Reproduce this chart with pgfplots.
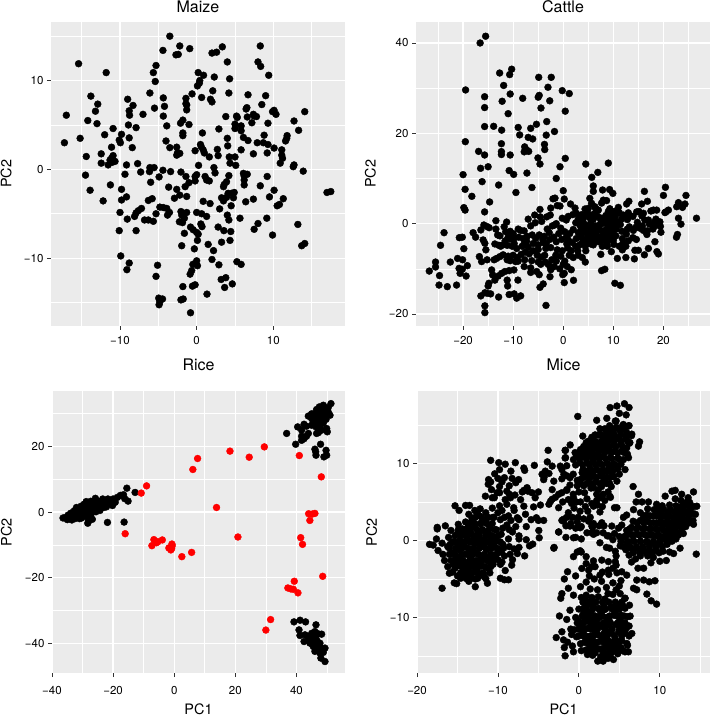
\documentclass[border=0pt]{standalone}
\usepackage{pgfplots}
\pgfplotsset{compat=1.18}
\usepackage{fontspec}
\setmainfont{TeX Gyre Heros}
\definecolor{panel}{HTML}{EBEBEB}
\pgfplotsset{
 gg/.style={
  scale only axis,
  axis background/.style={fill=panel},
  axis line style={draw=none},
  grid=both,
  major grid style={white,line width=1.25pt},
  minor grid style={white,line width=0.6pt},
  major tick length=4pt,
  minor tick length=0pt,
  tick align=outside,
  xtick pos=lower, ytick pos=left,
  tick style={color=black!80,line width=0.8pt},
  tick label style={font=\fontsize{11.5}{12}\selectfont},
  label style={font=\fontsize{14.4}{15}\selectfont},
  title style={font=\fontsize{16}{17}\selectfont},
  every axis title shift=0pt,
  only marks,
 },
 dots/.style={only marks,mark=*,mark size=3.45pt,mark options={draw=black,fill=black,line width=0.4pt}},
 rdots/.style={only marks,mark=*,mark size=3.45pt,mark options={draw=red,fill=red,line width=0.4pt}},
}
\begin{document}
\begin{tikzpicture}[x=1pt,y=1pt]
\path[use as bounding box] (0,0) rectangle (710,717);
% Maize
\begin{axis}[gg,at={(51pt,391pt)},anchor=south west,width=294pt,height=304pt,
 xmin=-19,xmax=19.35,ymin=-17.64,ymax=16.6,
 xtick={-10,0,10},xticklabels={−10,0,10},ytick={-10,0,10},yticklabels={−10,0,10},
 minor xtick={-15,-5,5,15},minor ytick={-15,-5,5,15},
 xticklabel style={yshift=-3pt},
 title=Maize,title style={at={(0.5,1)},anchor=base,yshift=9.5pt},
 ylabel=PC2,ylabel style={at={(axis description cs:-0.153,0.5)},anchor=center}]
\addplot[dots] coordinates {
(-3.5,15)(-2.2,13.9)(-0.9,13.6)(-4.4,13.4)(-2.7,12.9)(-2.4,12.95)(3.35,13.8)(2,13.1)(2.6,13.2)(8.3,13.9)(-15.4,11.9)(4,12.1)(8,12.1)(8.35,11.6)(-5.3,11.7)(-11.8,10.9)(-5.65,10.9)(0.2,10.9)(0.9,10.6)(9.4,10.6)(2.3,10.4)(4.3,10.2)(0.4,10)(0.35,9.7)(0.1,9.4)(-5.4,9.9)(-6.1,8.6)(-0.6,8.5)(2.1,8.85)(4.2,8.6)(-13.8,8.25)(6.7,8.4)(9,8.3)(0.65,8.1)(-4.35,8.05)(-1.4,8)(-9,7.9)(1.8,7.9)(2,7.6)(-1.4,7.4)(-1.3,7.25)(-12.9,7.35)(-8.3,7.2)(-4.2,7.1)(8.5,7.3)(6.55,6.95)(6.45,6.8)(-5.5,6.9)(-1.3,6.7)(-13.2,6.55)(-8.8,6.6)(10.1,6.65)(9.9,6.5)(10.35,6.2)(14.1,6.5)(-17,6.1)(-7,6.2)(-8.75,6.1)(-4.35,6)(3.8,5.95)(5.2,6)(5.3,5.85)(6.6,5.9)(7.4,6.2)(7.8,5.95)(7.5,6)(-14.2,5.5)(12.7,5.45)(-1.8,5.55)(-2.1,5.2)(-1,5.05)(9.3,5.2)(7.2,5.25)(-13,5.15)(-8.9,5)(5,5.1)(5.8,4.9)(-3.9,4.9)(5,4.6)(-10.9,4.6)(-7.9,4.7)(2.9,4.55)(5.8,4.35)(13.3,4.4)(0.75,4.1)(-1.8,4.1)(-1.8,3.8)(-12,3.9)(-9.8,3.95)(8.8,3.85)(11.8,3.8)(11.75,3.5)(11.6,3.2)(-15.2,3.5)(-8.8,3.55)(4,3.5)(6.1,3.6)(6.7,3.25)(-10.1,3.3)(-9.95,3)(-4,3.2)(-17.25,3)(7.9,3)(8.7,3)(9.3,2.8)(0.5,2.8)(0.6,2.55)(0.85,2.2)(4.05,2.65)(-11.1,2.5)(-8.4,2.45)(-3.5,2.45)(-2.6,2.5)(10.1,2.4)(2.7,2.25)(5.8,2.2)(11.1,2.2)(-0.2,2.1)(-2.5,1.85)(-2.2,1.8)(-2.6,1.6)(7.4,1.75)(9.2,1.85)(1,1.85)(1.65,1.4)(-12.45,1.75)(2.8,1.55)(-14.4,1.45)(-10.9,1.55)(-11.1,1.25)(-11.3,1.05)(11.1,1.6)(11.2,1.25)(4.25,1.4)(5,1.4)(-10.65,0.9)(-11,0.8)(4.35,0.7)(-12.45,0.7)(10.9,0.7)(-7.7,0.65)(-11.55,0.5)(-9.15,0.5)(5.1,0.45)(0.25,0.45)(12.7,0.5)(12.6,0.3)(2.25,0.2)(2.4,-0.4)(-6.1,0.2)(-5.55,0.2)(-6.15,-0.25)(13.9,-0.2)(-4.4,-0.1)(-3.4,-0.25)(-7.3,-0.3)(-2.05,-0.3)(-9.35,-0.55)(-14.5,-0.65)(6.1,-0.45)(6.6,-0.55)(6.2,-0.75)(4.2,-0.7)(0,-0.6)(-0.2,-0.8)(-1.4,-0.8)(9.2,-0.8)(-4.9,-0.85)(1.1,-0.8)(1.3,-1.2)(1.65,-1.3)(-0.2,-1.3)(6.2,-1.2)(6.2,-1.75)(3.9,-1.4)(3.6,-1.7)(-6,-1.45)(-1,-1.5)(-1.5,-1.95)(-11.25,-1.75)(8.3,-1.85)(-3.65,-2)(3.5,-1.95)(-9.8,-2.25)(10.1,-2.35)(-13.9,-2.35)(-2.6,-2.25)(4.9,-2.6)(4.55,-2.7)(4.1,-2.7)(17,-2.6)(17.5,-2.5)(-2.2,-2.9)(-1.3,-3.05)(-2.9,-3.25)(-9.15,-3.1)(-9.8,-3.45)(3.25,-3.2)(3.9,-3.15)(4.8,-3.2)(9.5,-3.1)(7.4,-3.35)(11.3,-3.3)(-5.8,-3.3)(-6.3,-3.5)(-12.2,-3.55)(0.85,-3.6)(6.4,-3.65)(3.5,-3.55)(1.75,-3.85)(10.8,-3.95)(10.5,-4.1)(4.5,-4.1)(-4.8,-4.25)(-4.35,-4.3)(-3.9,-4.4)(-7.2,-4.4)(-7.6,-4.65)(-7.9,-4.9)(-8.1,-5.3)(3,-4.45)(-10,-4.85)(-3.55,-4.85)(-3.8,-5.15)(-2.05,-4.75)(-1.3,-4.85)(-1.95,-5.15)(0,-4.85)(0.65,-5)(1.3,-5.3)(4,-5.15)(4.2,-5.7)(-5.3,-5)(-9.05,-5.6)(-1.6,-5.5)(-2.25,-5.9)(-1.85,-6)(5.65,-5.5)(9.15,-5.5)(-6.8,-5.7)(-6.3,-5.7)(-5.65,-5.85)(0.55,-6.15)(0.7,-6.45)(8,-6.1)(13.2,-6.2)(2.8,-6.5)(-0.8,-6.5)(7.5,-6.75)(-0.45,-6.8)(0,-7.1)(0.2,-7.3)(-10.1,-6.9)(-7.9,-6.9)(3.55,-6.9)(4.45,-7)(-1.6,-7.2)(9.9,-7.4)(0.1,-8)(4.35,-8)(3.25,-8.2)(1.5,-8.45)(-1.95,-8.6)(13.7,-8.6)(14.1,-8.35)(-0.3,-8.95)(2.2,-9.15)(-9.9,-9.75)(2,-10.15)(5.25,-10.4)(5.8,-10.7)(-8.8,-10.55)(0,-10.3)(-0.5,-10.7)(0.1,-10.85)(-5.1,-10.8)(2.9,-10.75)(-9.1,-11.3)(-0.65,-11.4)(-0.85,-11.8)(-5.3,-12.05)(3.8,-12.2)(3.2,-12.4)(4.65,-12.9)(-0.2,-13)(-0.55,-13.15)(-1.8,-13.2)(3.65,-13.3)(1.35,-14.05)(-4.95,-14.5)(-4.45,-14.6)(-4.8,-14.9)(-4.9,-15.25)(-1.75,-14.6)(-2.05,-14.7)(-0.8,-16.15)
};
\end{axis}
% Cattle
\begin{axis}[gg,at={(416pt,391pt)},anchor=south west,width=294pt,height=304pt,
 xmin=-29.4,xmax=29.3,ymin=-22.66,ymax=44.65,
 xtick={-20,-10,0,10,20},xticklabels={−20,−10,0,10,20},ytick={-20,0,20,40},yticklabels={−20,0,20,40},
 minor xtick={-25,-15,-5,5,15,25},minor ytick={-10,10,30},
 xticklabel style={yshift=-3pt},
 title=Cattle,title style={at={(0.5,1)},anchor=base,yshift=9.5pt},
 ylabel=PC2,ylabel style={at={(axis description cs:-0.155,0.5)},anchor=center}]
\addplot[dots] coordinates {
(-15.5,41.5)(-16.6,40)(-10.3,34.2)(-10.7,33)(-12.7,33.35)(-4.9,32.4)(-2.4,32.4)(-11.9,30.6)(-3.05,30.2)(-19.5,29.6)(-0.2,29.45)(-10.6,28.7)(1.2,28.8)(-15.7,28.1)(-4.8,28.4)(-5,28)(-8.1,27.75)(-12.2,27.1)(-2.7,27.2)(-15.7,25.7)(-4.45,25.6)(0.4,24.9)(-11,24.35)(-3.3,22.6)(-5.35,22)(-15.7,21.5)(-13.9,21.55)(-9,21.3)(-6.5,21.1)(-12.3,20.7)(-1.75,20.4)(-8.7,19.65)(-3.4,19.6)(-7,19.1)(-6.1,18.75)(-19.55,18.15)(-12.35,17.7)(-3.75,17.55)(-7.7,17)(-3.7,16.4)(-7.3,16.3)(-7.8,15.9)(-6.9,16)(-16.9,16)(-12.35,15.95)(-12.35,15.3)(-10.6,15.2)(-15.7,15.2)(0.4,14.45)(-5.05,14.55)(-4.65,13.2)(4.5,13.2)(9,13.4)(-0.65,12.6)(-15,12.6)(-16.5,12.25)(-10.8,11.75)(-9.9,10.9)(-7.25,11.2)(6.9,11.35)(5.7,10.25)(-20,10.85)(-1.4,10)(-16.2,9.3)(-12.9,8.55)(6,8.35)(-6.25,8)(20.4,8.05)(-19.6,7.6)(0,7.3)(6,7.15)(7.85,7.45)(9.25,7.55)(16.2,7.15)(9.9,6.7)(-9.45,6.9)(20,6.25)(24.5,6.25)(-18.25,6.05)(5.3,5.6)(-2.05,5.5)(-1.65,5.65)(0.2,5.45)(8,5.2)(8.65,5.1)(13.1,4.95)(16.8,4.95)(-14.7,4.8)(23,4.65)(24.3,4.35)(7.65,4.55)(5.65,4.5)(1.45,4.35)(-0.65,3.9)(15.65,4.35)(12.65,4.35)(22.65,3.75)(23.8,3.6)(-19.85,3.55)(-19.6,3)(-2.5,3.45)(-4.65,3.15)(2.35,3.45)(4.35,3.25)(5,3.4)(6.3,3.75)(7,3)(9.3,3.3)(11,3.6)(21,3)(-15.7,2.6)(20.3,2.45)(14.65,2.6)(15.1,2.7)(18,3)(18.65,3)
(-26.75,-10.5)(-25.5,-8.5)(-25.5,-9.6)(-24.7,-11.5)(-24.8,-13.6)(-23.15,-13.95)(-22.55,-8.5)(-24.5,-4.8)(-23.8,-2)(-21.3,-13.6)(-21.1,-7.7)(-20.1,-8)(-20.8,-9.9)(-20.15,-10.1)(-20.6,-11)(-19.4,-11.6)(-19.15,-9.3)(-20.75,-3.1)(-20.15,-3)(-19.85,-5.55)(-18,-2)(-17.5,-3)(-16.75,-7.3)(-16.3,-8.4)(-15.2,-8)(-16.45,-1.4)(-15.85,-0.3)(-15.2,-0.65)(-14.8,-0.9)(-16,-3.6)(-15.65,-4.35)(-15.45,-5.8)(-13.45,0.65)(-11.3,0.35)(-13.45,-1.2)(-13.1,-2.5)(-12.65,-2.7)(-13.65,-4.5)(-12.85,-4.8)(-12.1,-4.7)(-13.8,-8)(-13.3,-7.7)(-12.65,-7.3)(-12,-6.9)(-14.3,-10.25)(-14.1,-11.35)(-13.65,-12.5)(-13,-11.6)(-12.3,-11)(-11.65,-10.6)(-10.8,-10.4)(-9.85,-10.25)(-11.2,-12.5)(-11.1,-13.8)(-14.85,-13.2)(-15,-13.8)(-16.45,-16)(-15.65,-15.3)(-15.2,-15.4)(-14.5,-15.55)(-12.9,-16.25)(-10.8,-15.7)(-9.8,-15.55)(-9.3,-16.5)(-8.5,-16)(-9.05,-12.5)(-15.65,-18.2)(-15.65,-19.7)(-3.45,-18.1)(-4.65,-14.1)(-4,-13.35)(10.3,-13.2)(11.4,-13.65)(7.65,-10.4)(8.3,-10.1)(0.2,-13.05)(2.05,-12.55)(0.2,-11)(-0.1,-11.3)(-2.65,-11.75)(-2.65,-9.5)(-1.8,-9.5)
(-11.5,-1.8)(-10.6,-1.7)(-10,-2.2)(-9,-1.2)(-8.5,-1.5)(-7.8,-1.6)(-11.6,-3.8)(-10.6,-3.4)(-9.8,-3.2)(-8.9,-3)(-8,-3.3)(-7.2,-2.8)(-6.2,-2.5)(-5.5,-3.3)(-11,-7.2)(-10,-7)(-9.2,-7.5)(-8.4,-6.8)(-7.6,-6.3)(-6.8,-6.7)(-9,-8.3)(-7.7,-8)(-6.3,-8.2)(-8.2,-5)(-7,-5.2)(-6,-4.4)(-5,-4.7)(-4,-4.2)(-7.8,-9.5)(-6.5,-9.8)(-6.5,-10.8)(-5.3,-10.6)(-4.8,-11.3)(-5,-8.5)(-4.4,-7.4)(-3.7,-7)(-3,-9)(-2.3,-8)(-1.5,-7)(-0.5,-7.2)(0.3,-8.3)(1.2,-7)(0,-9)(-3.5,-5.5)(-2.5,-5.3)(-1.2,-5.8)(-0.2,-6)(0.9,-5.4)(2,-7.5)(3,-7)(4.4,-8.5)(3.8,-7.5)(1.6,-10.2)(-4.8,-2.5)(-3.8,-2.8)(-2.8,-2)(-1.9,-3)(-0.9,-2.2)(-3.2,-1.2)(-2.2,-0.5)(-1.4,0)(-0.5,-1)(0.6,-3)(1.3,-2.2)(0.7,-4.5)(1.8,-4.2)(2.6,-3.3)(-5.6,0.2)(-4.3,0.5)(-5.7,1.9)(-4.6,1.5)(-3.3,1.5)(-7,1)(-2.6,1.9)(-1.7,-0.3)(-0.2,1.2)(1,1.6)(1.9,2)(0.6,0.8)(2.5,0.2)(3,1)(2,-1.3)(3,-2)(3.6,-1)(3.3,-0.3)(4,0.3)(4.7,-0.5)(4.3,-1.7)(3.6,-3)(4.9,-2.7)(5.4,-1.5)(5.5,0.2)(5.3,1.3)(6,1)(6.4,-0.5)(6.6,-1.9)(6.1,-3.3)(5,-4.2)(6,-4.7)(7,-4)(7.6,-2.9)(7.5,-1.5)(7.7,0)(8.4,1.1)(7.6,1.2)(9,2.7)(8.5,1.8)(9.5,2)(8.9,0.4)(9.6,0.6)(10.4,1.7)(10.5,0.5)(9.5,-0.8)(8.6,-1.2)(8.4,-2.5)(9.4,-2.3)(8.3,-3.6)(9,-3.6)(7.8,-5)(8.8,-5)(7.5,-6.8)(9.6,-6.2)(10.1,-4.6)(10.5,-2.7)(10.6,-1.2)(11.4,-0.2)(11.6,1)(11.2,2.4)(12,1.9)(11.7,-1.7)(12.6,-2.3)(11.8,-3.3)(12.5,-5)(11.2,-5)(11.8,-5.8)(10.8,-7.7)(12.5,-7.5)(14.2,-7.8)(14.3,-5.9)(15,-5.9)(16.2,-6.9)(14.6,-3.5)(13.9,-3.1)(14,-1.5)(13.2,-0.7)(12.8,0.9)(13.9,1.6)(14.8,0.3)(15.8,-0.5)(15.7,1.7)(16.8,-1.6)(16.7,-2.4)(17,-5.5)(17,0.8)(17.9,-1.2)(17.5,2.8)(18.2,0.3)(18.3,-0.5)(18.5,1)(19.3,0.4)(19.4,-0.6)(19.5,-1.9)(18.3,-4)(18.7,-6.2)(19,-6.7)(22.6,-3)(22.8,-2.4)(23,1.2)(23.5,-0.1)(26.6,1.2)(20.5,2.6)(17.2,-0.1)(16,-1.5)(13,2.4)(6.5,3.3)(7.5,0.8)(5.3,-3.3)(-1.2,4)(-4.1,-3.5)(-4.5,-9)(-3.6,-8.5)(-2.5,-10.2)(-9.8,-4.4)(-6.5,-0.5)(-7.8,-4.4)(-9.5,-8.4)(-11.8,-0.7)(-12.5,-5)(-11,-3)
(3.9,-2)(4.6,-3.5)(5.2,-2.1)(5.9,-1)(5.9,-2.6)(6.8,-1)(6.9,-3)(7.2,-0.3)(8.1,-1.9)(8.2,0.3)(9,-0.4)(9,-1.9)(9.9,-1.5)(9.9,-0.1)(10.1,1.2)(9.3,1.3)(8.9,2)(10.2,2.7)(10.6,-0.4)(9.4,-3)(10,-3.7)(8.7,-4.3)(7.4,-3.7)(6.6,-3.7)(5.5,-4.5)(4.4,-5)(3.3,-4.7)(3.9,-4)(2.5,-5)(2.9,-6)(4.5,-6)(1.6,-6)(5.4,1.9)(4.1,1.4)(2.6,2.3)(3.7,2)(4.8,2.4)(6.2,2.2)(6.9,1.6)(0.3,-1.8)(-0.3,-3.5)(1,-3.6)(-1.4,-4)(-2.7,-3.5)(-3.4,-4.4)(-5,-5.7)(-6,-6)(-5.2,-7)(-1.4,-8.3)(0.8,-9.5)(-0.7,-10)(-7.3,-3.9)(-9.3,-5.5)(-10.2,-5)(-11.2,-4.8)(-10.6,-8.2)(-11.2,-8)(11.9,-4.4)(13,-3.8)(12.8,-1.2)(13,1.7)(14.5,-0.8)(15.3,-1)(16.3,0.8)(16,2.3)
};
\end{axis}
% Rice
\begin{axis}[gg,at={(52pt,44pt)},anchor=south west,width=293pt,height=282pt,
 xmin=-40,xmax=55.9,ymin=-49.1,ymax=36.95,
 xtick={-40,-20,0,20,40},xticklabels={−40,−20,0,20,40},ytick={-40,-20,0,20},yticklabels={−40,−20,0,20},
 minor xtick={-30,-10,10,30,50},minor ytick={-30,-10,10,30},
 xticklabel style={yshift=-5.5pt},
 title=Rice,title style={at={(0.5,1)},anchor=base,yshift=20pt},
 xlabel=PC1,xlabel style={at={(axis description cs:0.5,-0.128)},anchor=center},
 ylabel=PC2,ylabel style={at={(axis description cs:-0.156,0.5)},anchor=center}]
\addplot[dots] coordinates {
(51.3,33.1)(50.4,31.9)(48.8,32.6)(47.5,32.1)(48.25,31.05)(49.35,30.9)(50.4,30.55)(51,29.55)(46.6,31.3)(46.1,30.05)(47.2,30.05)(48.25,29.55)(49.35,29.55)(45,30)(43.9,29.3)(45,28.55)(46.05,28.5)(47.15,28.5)(48.25,28.3)(49.7,28.3)(45.5,27.5)(46.6,27.2)(47.7,27.5)(48.8,27.2)(47.7,26.2)(46.4,26)(45,26.5)(49.9,25.5)(50.1,24.5)(48.25,25)(47.2,24.25)(46.6,24)(42.5,26.8)(43.3,26.2)(40.4,26)(41.7,25)(43.9,24)(43.3,23.15)(41.7,23.15)(42.5,22.4)(41.7,21.9)(36.8,24)(39.75,20.7)(47.9,20.7)(46.05,19.2)(46.3,18.4)(46.4,17.35)(49.7,18.85)(49.9,17.35)(49,16.85)
(39.2,-33.5)(41.2,-33)(43,-33.5)(46.4,-34.4)(40.85,-35.95)(41.15,-37.65)(42.8,-37.45)(43.9,-38)(45,-37)(46.05,-36.45)(47.15,-37.15)(48.25,-37.25)(42.5,-39.5)(43.9,-39)(45,-38.5)(46.05,-38)(44.45,-40)(45.5,-39.5)(46.6,-39)(45.5,-41)(46.6,-40.5)(47.7,-40)(46.05,-42.5)(47.15,-42)(48.25,-41.5)(49.35,-41.5)(47.7,-43)(48.8,-42.8)(48,-44.55)(49.35,-45.6)
(-36.4,-1.8)(-35.5,-1.6)(-35,-2.3)(-34.7,-0.9)(-34,-1.5)(-33.8,-0.3)(-33.5,-2.4)(-33,-0.9)(-32.7,0.4)(-32.5,-2)(-32,1.4)(-32,-0.2)(-31.5,-1.6)(-31.2,0.8)(-30.8,-0.5)(-30.5,1.8)(-30.3,-1.8)(-30,0.3)(-29.5,2.4)(-29.5,-0.7)(-29,1)(-28.8,3.2)(-28.5,-1.5)(-28.3,-3.4)(-28,0.4)(-27.8,2)(-27.3,3.3)(-27.2,-0.6)(-26.8,-2.2)(-26.6,1)(-26.2,2.5)(-25.8,4.2)(-25.6,0.1)(-25.2,1.5)(-24.8,3.3)(-24.3,0.5)(-24,2.4)(-23.4,4)(-23,1.4)(-22.7,3)(-22.2,1.6)(-21.7,4)(-21.5,2.7)(-20.8,3.5)(-20.2,2)(-20,4)(-19.3,3)(-18.6,4.5)(-17.6,5.1)(-16.6,5.3)(-15.5,7.3)(-12.8,6)(-15.1,3.35)(-16.2,4.1)(-21.85,-3.15)(-16.4,-3.05)(-28,-2.7)(-31,-2)
};
\addplot[rdots] coordinates {
(-9.05,8)(-10.8,5.8)(6.1,13)(7.65,16.35)(18.25,18.6)(24.55,16.75)(29.5,19.9)(40.95,17.25)(48.15,10.75)(13.85,1.4)(44,-0.5)(45.2,-0.6)(46.05,-0.4)(44.4,-2.55)(41.4,-7.8)(42,-9.85)(20.85,-7.6)(-16.05,-6.6)(-7.3,-10.25)(-6.65,-8.4)(-5.8,-9.35)(-3.9,-8.5)(-5.35,-9.05)(-0.75,-9.75)(-0.65,-10.25)(-1.75,-10.95)(-1.1,-11.55)(-0.85,-11.15)(2.5,-13.6)(5.7,-12.3)(48.6,-19.6)(39.3,-21.1)(37.2,-23.15)(38.2,-23.45)(39,-23.55)(40.5,-24.65)(31.55,-32.8)(30,-36)
};
\end{axis}
% Mice
\begin{axis}[gg,at={(417pt,44pt)},anchor=south west,width=293pt,height=282pt,
 xmin=-20,xmax=16.2,ymin=-17.2,ymax=19.4,
 xtick={-20,-10,0,10},xticklabels={−20,−10,0,10},ytick={-10,0,10},yticklabels={−10,0,10},
 minor xtick={-15,-5,5,15},minor ytick={-15,-5,5,15},
 xticklabel style={yshift=-5.5pt},
 title=Mice,title style={at={(0.5,1)},anchor=base,yshift=20pt},
 xlabel=PC1,xlabel style={at={(axis description cs:0.5,-0.128)},anchor=center},
 ylabel=PC2,ylabel style={at={(axis description cs:-0.155,0.5)},anchor=center}]
\addplot[dots] coordinates {
(-18.45,-0.5)(-18,-0.6)(-17.5,1.7)(-17.5,1.5)(-16.5,1.9)(-17.6,0.2)(-16.9,-0.35)(-17.4,-1.3)(-16.9,-6.2)(-16,-4.25)(-15.1,-5.6)(-15.4,-5.5)(-12.8,-6)(-11.3,-5.55)(-11.5,-4.95)(-13.9,-4.95)(-15.3,4.5)(-14.8,3.9)(-14,4.55)(-13.5,4.55)(-12.2,4.1)(-12.85,3.9)
(-16.8,-1.8)(-16.6,-2.6)(-16.2,-0.8)(-16.1,0.4)(-15.8,1.3)(-16.2,-3.4)(-15.6,-1.6)(-15.4,-2.6)(-15.4,-0.2)(-15,0.9)(-15.3,-3.6)(-15,-4.6)(-14.8,-1.2)(-14.8,-2.2)(-14.6,-3.2)(-14.7,0)(-14.4,1.5)(-14.4,-4.2)(-14.2,-0.6)(-14.1,-1.8)(-14,-2.9)(-14,0.6)(-14,2.4)(-13.7,1.7)(-13.6,-0.1)(-13.6,-3.6)(-13.5,-1.2)(-13.4,-2.3)(-13.3,-4.4)(-13.3,0.9)(-13.2,2.6)(-12.9,1.8)(-12.9,-0.4)(-12.8,-1.6)(-12.8,-2.9)(-12.7,-3.8)(-12.8,-5)(-12.5,0.5)(-12.3,3.2)(-12.2,2.2)(-12.2,-0.9)(-12.1,-2.1)(-12,-3.3)(-12,-4.3)(-11.7,0.1)(-11.6,1.1)(-11.5,2.7)(-11.5,3.6)(-11.4,-1.2)(-11.4,-2.5)(-11.2,-3.6)(-11,-4.2)(-11,0.7)(-11,1.9)(-10.8,-0.6)(-10.6,-1.9)(-10.6,-3.1)(-10.5,3)(-10.3,0.3)(-10.2,1.4)(-10,-1.2)(-10,-2.5)(-9.7,-3.1)(-9.6,0.8)(-9.4,-0.5)(-9.2,-2)(-9.1,-3.9)(-9.7,-4.9)(-9.2,-5.1)(-8.7,-5.1)(-8.3,-3.2)(-8.5,-1.8)(-8.7,0.2)(-8,-1.1)(-7.4,-0.9)(-6.7,-2)(-6.1,-0.7)(-8.2,1.1)(-7.4,0.6)(-6.5,0.1)(-8.9,2)(-9.7,2.7)(-10,3.6)(-10.7,4.2)(-9.5,3.9)(-8.7,3.2)(-8,3.9)(-7.2,5.3)(-6.8,4.45)(-8.05,4.25)(-8.45,5.55)
(-12.8,3)(-12,3)(-11.2,3)(-10.6,3)(-13.6,2.2)(-12.9,2.2)(-12.1,2.2)(-11.4,2.2)(-10.7,2.2)(-14.9,1.4)(-14.1,1.4)(-13.4,1.4)(-12.6,1.4)(-11.9,1.4)(-11.1,1.4)(-10.4,1.4)(-15.3,0.6)(-14.6,0.6)(-13.8,0.6)(-13,0.6)(-12.3,0.6)(-11.5,0.6)(-10.7,0.6)(-10,0.6)(-15.6,-0.2)(-14.9,-0.2)(-14.1,-0.2)(-13.4,-0.2)(-12.6,-0.2)(-11.9,-0.2)(-11.2,-0.2)(-10.4,-0.2)(-9.7,-0.2)(-16,-1)(-15.2,-1)(-14.5,-1)(-13.7,-1)(-13,-1)(-12.3,-1)(-11.5,-1)(-10.8,-1)(-10.1,-1)(-9.3,-1)(-16,-1.8)(-15.3,-1.8)(-14.5,-1.8)(-13.8,-1.8)(-13.1,-1.8)(-12.4,-1.8)(-11.7,-1.8)(-10.9,-1.8)(-10.2,-1.8)(-15.8,-2.6)(-15,-2.6)(-14.3,-2.6)(-13.5,-2.6)(-12.7,-2.6)(-12,-2.6)(-11.3,-2.6)(-10.6,-2.6)(-15.2,-3.4)(-14.5,-3.4)(-13.7,-3.4)(-13,-3.4)(-12.3,-3.4)(-11.6,-3.4)(-10.9,-3.4)(-14.6,-4.2)(-13.9,-4.2)(-13.2,-4.2)(-12.5,-4.2)(-11.8,-4.2)(-14.6,-4.9)(-13.3,-4.9)(-12.5,-4.9)
(-15.9,-0.5)(-15.2,-2.1)(-14.4,1)(-14.9,2.1)(-13.6,3.4)(-12.6,3.6)(-13.2,2.9)(-14.3,-0.9)(-13.1,0.1)(-12.3,0)(-10.9,0.1)(-10,-1.6)(-11.1,-2.7)(-13.2,-2.6)(-14,-3.5)(-15.5,-3.1)(-15.6,-4.1)(-14.1,-4.6)(-13.6,-5.3)(-11.7,-4.7)
(-10.9,10.4)(-9.9,10.1)(-9.1,9.9)(-7.85,10.1)(-9.8,9.2)(-8.4,9)(-6.8,9.4)(-6.7,9.1)(-5.5,9.75)(-3.8,11.7)(-10.4,8.65)(-9.2,8.15)(-11.15,7.9)(-11.2,7.3)(-10,8.05)(-7.45,7.9)(-8.25,8.05)(-6.4,6.85)(-6.8,6.5)(-5.8,6.2)(-5.4,5.55)(-5,6.3)(-11.55,5.75)(-10.1,6.2)(-8.9,6.4)(-10.7,5.55)(-10.45,5.55)(-9.8,6.2)(-9.1,5.3)(-9.8,4.5)(-8.9,4.7)(-7.6,2.95)(-6.6,3.4)(-5.25,2.95)(-4.35,2.6)(-5.6,4.35)(-4.75,4.6)(-3.7,4.7)(-3.3,5.35)(-2.5,4.25)(-2.1,2.6)(-4.95,1.3)(-4.9,0.35)(-6.5,1.8)(-2.5,1.1)(-4.55,8.6)(-4.15,9)(-3.9,10.2)(-3.3,9.65)(-2.3,9.65)(-1.65,11.7)(-1.65,10.75)(-1.85,8.6)(-3.1,7.7)(-3.3,6.6)(-2.5,6)(-3.5,5.1)(-4.35,7.9)(-10.9,7.6)(-8.6,7.1)(-7.8,7.5)(-9.5,7.6)(-10.8,6.6)(-9.8,7)(-8.6,6)(-7.9,5.9)(-7,6.3)(-6.3,6.4)(-7.4,2.7)(-5.9,2.7)(-5,2.6)(-7.4,0.2)
(-4.3,8.2)(-3.7,8.7)(-2.1,8)(-1.5,8.4)(-2.9,5.6)(-2.1,6.2)(-1.5,6.5)(-1.1,7.2)(-0.7,8.6)(-0.4,9.8)(-2,5)(-1.3,5.3)(-0.7,6)(-0.2,7.1)(-0.6,4.2)(-0.8,3)(-1.5,3)(-1.9,2.5)(-1.6,1.9)(-1,2.2)(-2.5,1.1)(-1.6,0.4)(-0.4,1.6)(-0.4,0.4)(-0.1,3)(0.2,5)(0.7,6.2)(0.3,1.8)(0.3,0.2)(0.6,2.8)(1.1,3.8)(1.8,2.2)(1.6,4.8)(2.2,6)(2.6,3.7)(2.8,7)(1.6,1)(1.7,1.7)(2.5,1.9)(3.1,1.9)(-3.1,-1)(-0.2,-1.5)(0.3,-1.5)(2.6,-0.3)(3.7,0.6)
(-1.8,-5)(-1.4,-4.06)(-0.4,-4.6)(0.15,-1.33)(-0.67,-2.1)(0.9,-2.1)(0.9,-3)(1.8,-2.65)(2.83,-2.55)(3.65,-2.75)(4.5,-2.75)(0.36,-3.63)(1.2,-3.85)(2,-3.4)(3.65,-3.85)(5.3,-4.06)(5.92,-4.5)(7.15,-5.14)(8,-5.14)(8.7,-5.36)(9.4,-5.23)(6.75,-6.2)(7.15,-6.4)(8.4,-6.96)(8.93,-7.83)(9.6,-8.26)(-2.1,-6.9)(-2.24,-7.5)(-1.3,-6.2)(-0.67,-7.1)(-1.1,-9.05)(-2.4,-9.8)(-1.5,-10.25)(0.77,-7.5)(-2.1,-11.85)(-2.8,-12.6)(-1.9,-12.9)(-1.8,-13.9)(-1.7,-14.97)(-0.67,-14.45)(1.06,-14.8)(2.33,-15.66)(3,-15.66)(4.27,-15.45)(5.7,-14.45)(6.12,-14.45)(5.92,-13.37)(6.54,-12.07)(6.33,-9.82)(6.25,-8.4)(5.7,-7.5)(-3.06,-0.9)(-5.7,-0.47)(14.5,-1.77)
(0.2,-6)(0.9,-5.4)(1.4,-6.3)(0.9,-7.1)(1.9,-5)(1.3,-4.6)(2.9,-4.1)(3.7,-4.4)(2.8,-5.3)(4.6,-3.2)(4.7,-4.2)(2.3,-6.4)(3.4,-6.1)(4.2,-5.5)(5,-5.9)(1,-8.4)(1.7,-8)(2.4,-7.3)(3.2,-7.6)(4.2,-7)(5.1,-6.9)(5.7,-7.5)(0.6,-9.4)(1.5,-9.3)(2.4,-8.8)(3.1,-9)(4,-8.6)(4.9,-8.3)(5.7,-8.8)(0,-10.5)(0.9,-10.4)(1.7,-10.3)(2.5,-10)(3.4,-10)(4.3,-9.7)(5.2,-9.7)(6,-9.9)(-0.6,-11.6)(0.2,-11.5)(1.1,-11.4)(1.9,-11.3)(2.8,-11.1)(3.7,-11)(4.6,-10.9)(5.4,-10.8)(6.2,-11.1)(-0.3,-12.5)(0.6,-12.4)(1.4,-12.4)(2.3,-12.2)(3.1,-12.1)(4,-12)(4.9,-11.9)(5.7,-12)(6.2,-12.4)(0.2,-13.4)(1.1,-13.3)(1.9,-13.2)(2.8,-13.1)(3.6,-13)(4.5,-12.9)(5.3,-13)(0.9,-14.2)(1.7,-14.3)(2.6,-14.1)(3.3,-13.9)(4.2,-13.8)(5.2,-13.9)(2.7,-15.1)(3.3,-15)(3.9,-14.8)
(0.5,-8)(1.3,-8)(2.1,-8)(2.9,-8)(3.7,-8)(4.5,-8)(5.3,-8)(0,-8.9)(0.9,-8.9)(1.7,-8.9)(2.5,-8.9)(3.3,-8.9)(4.1,-8.9)(5,-8.9)(0.4,-9.8)(1.2,-9.8)(2,-9.8)(2.9,-9.8)(3.8,-9.8)(4.7,-9.8)(5.6,-9.8)(-0.2,-10.7)(0.6,-10.7)(1.4,-10.7)(2.2,-10.7)(3,-10.7)(3.9,-10.7)(4.8,-10.7)(5.7,-10.7)(-1,-11.5)(-0.1,-11.5)(0.7,-11.5)(1.5,-11.5)(2.3,-11.5)(3.2,-11.5)(4.1,-11.5)(5,-11.5)(5.8,-11.5)(0,-12.4)(0.9,-12.4)(1.8,-12.4)(2.7,-12.4)(3.5,-12.4)(4.4,-12.4)(5.3,-12.4)(0.7,-13.2)(1.5,-13.2)(2.3,-13.2)(3.2,-13.2)(4,-13.2)(4.9,-13.2)(1.3,-14)(2.2,-14)(3,-14)(3.8,-14)(4.7,-14)(3,-14.7)(3.5,-14.7)
(1.7,-8.5)(3.1,-8.5)(4.6,-8.5)(1.3,-9.4)(2.7,-9.35)(4.5,-9.3)(0.8,-10.2)(2.2,-10.25)(3.7,-10.3)(5.1,-10.25)(0.3,-11.05)(1.8,-11)(3.4,-10.95)(5.1,-11.1)(0.5,-11.95)(2,-11.95)(3.6,-11.9)(5.3,-11.95)(1.3,-12.8)(2.9,-12.75)(4.5,-12.8)(1.9,-13.6)(3.4,-13.6)(4.4,-13.55)(2,-14.6)(4.2,-14.4)
(5.63,17.75)(4.7,17.45)(3.86,17.25)(6.2,17.25)(-0.14,16.1)(5,16.5)(5.84,16.3)(3.45,15.85)(2.2,15.6)(4.5,15.5)(5.5,15.05)(6.1,14.85)(6.54,13.8)(0.48,13.55)(7.5,12.8)(7.36,12.25)(-1.08,12.4)(-1.7,11.7)(6.3,12.7)(6.13,10.75)(-0.47,11.4)(-0.67,10.5)(-1.7,10.7)(-1.5,9.7)(-2.1,9.2)(5.7,9.2)(4.7,7.7)(6.7,7)(7.36,6)(4.7,4.25)(4.4,4.25)(3.8,5.75)(2.6,5.55)(1.8,6.85)(-1.1,8.15)(-1.5,6.6)(-0.67,5.55)(0.15,3.8)(1.8,4.45)(1.2,2.5)(2.83,2.3)(1.6,1.87)(1.8,0.8)(-1.3,3.6)(-1.9,2.75)(-1.1,1.87)(-0.67,0.35)(0.15,1.65)(4.07,1.87)(3,1)
(4.6,15.5)(3.8,14.9)(4.6,14.7)(5.4,14.9)(6.2,14.9)(2.6,14.5)(3.4,14.2)(4.2,14)(5.1,14.2)(5.9,14)(6.5,13.6)(1.6,13.4)(2.4,13.7)(3.2,13.4)(4.1,13.2)(4.9,13.3)(5.8,13.2)(6.2,12.6)(0.9,12.7)(1.7,12.7)(2.6,12.7)(3.4,12.5)(4.3,12.4)(5.2,12.5)(5.9,12)(0.2,11.8)(1,11.8)(1.9,11.9)(2.8,11.8)(3.6,11.7)(4.4,11.6)(5.3,11.6)(6,11.2)(-0.3,11)(0.5,10.9)(1.3,11)(2.2,11)(3,10.9)(3.9,10.8)(4.8,10.7)(5.5,10.5)(0.1,10.1)(1,10.1)(1.8,10.2)(2.6,10)(3.5,10)(4.3,9.9)(5.2,9.9)(0.5,9.2)(1.4,9.3)(2.2,9.2)(3.1,9.1)(3.9,9)(4.8,9.3)(1,8.4)(1.8,8.4)(2.7,8.4)(3.5,8.2)(4.3,8.3)(0.3,8)(1.2,7.6)(2.1,7.6)(3,7.5)(3.8,7.4)(-0.2,7.8)(0.6,7.1)(1.5,6.8)(3.6,6.3)(3,6)(3.9,5.6)(2.2,5.2)(2.9,4.4)
(3.2,14.5)(4,14.5)(4.8,14.5)(5.6,14.5)(2,13.7)(2.8,13.7)(3.6,13.7)(4.4,13.7)(5.2,13.7)(6,13.7)(1.2,12.9)(2,12.9)(2.8,12.9)(3.6,12.9)(4.4,12.9)(5.2,12.9)(6,12.9)(0.6,12.2)(1.4,12.2)(2.2,12.2)(3,12.2)(3.8,12.2)(4.6,12.2)(5.4,12.2)(0,11.4)(0.8,11.4)(1.6,11.4)(2.4,11.4)(3.2,11.4)(4,11.4)(4.8,11.4)(5.6,11.4)(0.1,10.6)(0.9,10.6)(1.7,10.6)(2.5,10.6)(3.3,10.6)(4.1,10.6)(4.9,10.6)(0.5,9.8)(1.3,9.8)(2.1,9.8)(2.9,9.8)(3.7,9.8)(4.5,9.8)(1,9)(1.8,9)(2.6,9)(3.4,9)(4.2,9)(0.6,8.2)(1.4,8.2)(2.2,8.2)(3,8.2)(3.9,8.2)(0.2,7.4)(1,7.4)(1.8,7.4)(2.6,7.4)(3.4,7.4)
(14.16,6.3)(11.9,6.5)(11.5,6.4)(10.66,5.75)(12.7,6)(13.5,5.55)(14.57,4.45)(9.6,4.7)(8.6,5)(7.8,5)(7.07,5)(6.75,4)(5.9,3.3)(5.5,3)(5.3,2)(14.4,3.4)(14.16,2.1)(4.9,1.6)(4.4,0.9)(3.5,0.6)(4.2,0.1)(5,0.5)(5.1,-0.7)(3.4,-0.9)(3.8,-1)(4.5,-1.4)(4.6,-2)(5.8,-1.2)(6.2,-1.9)(6.5,-2.8)(7.3,-3.6)(8,-3.6)(8.9,-2.9)(10,-2.7)(10.8,-2.6)(11.7,-1.7)(11.2,-1.5)(12.5,-1)
(13.5,5.2)(12.6,5.2)(11.9,5.4)(14.2,4.4)(13.5,4.5)(12.7,4.4)(12,4.5)(11.2,4.6)(10.3,4.5)(14.1,3.5)(13.4,3.6)(12.6,3.6)(11.8,3.7)(11,3.7)(10.1,3.8)(9.3,4)(8.5,4.1)(14.1,2.6)(13.3,2.7)(12.5,2.8)(11.7,2.8)(10.9,2.9)(10.1,3)(9.2,3.2)(8.4,3.3)(7.6,3.6)(13.2,1.8)(12.4,1.9)(11.6,1.9)(10.8,2.1)(10,2.2)(9.2,2.3)(8.4,2.5)(7.6,2.6)(6.7,2.5)(12.9,0.9)(12.1,1)(11.3,1.1)(10.5,1.3)(9.7,1.4)(8.9,1.5)(8.1,1.6)(7.3,1.7)(6.5,1.7)(5.9,1.3)(12,0.2)(11.2,0.3)(10.4,0.4)(9.6,0.6)(8.8,0.7)(8,0.8)(7.2,0.8)(6.4,0.8)(5.6,0.5)(10.9,-0.5)(10,-0.4)(9.2,-0.3)(8.4,-0.2)(7.6,-0.1)(6.7,0)(6,-0.3)(9.5,-1.2)(8.7,-1.2)(7.9,-1.1)(7.1,-1)(6.4,-1)(10.4,-1.4)(8.5,-2)(7.6,-2)(7,-2.4)(9.2,-2.2)
(12.9,4.9)(13.7,4.9)(9.7,4)(10.5,4)(11.3,4)(12.1,4)(12.9,4)(13.7,4)(8,3.2)(8.8,3.2)(9.6,3.2)(10.4,3.2)(11.2,3.2)(12,3.2)(12.8,3.2)(13.6,3.2)(7.2,2.3)(8,2.3)(8.8,2.3)(9.6,2.3)(10.4,2.3)(11.2,2.3)(12,2.3)(12.8,2.3)(13.6,2.3)(6.3,1.5)(7.1,1.5)(7.9,1.5)(8.7,1.5)(9.5,1.5)(10.3,1.5)(11.1,1.5)(11.9,1.5)(12.7,1.5)(5.9,0.7)(6.7,0.7)(7.5,0.7)(8.3,0.7)(9.1,0.7)(9.9,0.7)(10.7,0.7)(11.5,0.7)(12.3,0.7)(5.2,-0.1)(6,-0.1)(6.8,-0.1)(7.6,-0.1)(8.4,-0.1)(9.2,-0.1)(10,-0.1)(10.8,-0.1)(11.5,-0.1)(5.5,-0.8)(6.3,-0.8)(7.1,-0.8)(7.9,-0.8)(8.7,-0.8)(9.5,-0.8)(10.3,-0.8)(6.7,-1.6)(7.5,-1.6)(8.3,-1.6)(9.1,-1.6)(9.9,-1.6)
(-12.4,1)(-13.6,1)(-14.8,-0.6)(-12.6,-3)(-13.4,-3)(-14.2,-3.8)(-11,-2.2)(-11.8,-0.5)(-10.5,-0.4)(-9.6,-1.5)(-9.5,-2.8)(-8.6,-0.8)(-8.2,-2.5)(-7.6,-1.7)(-9.4,1.6)(-9.2,3)(-8.4,2.6)(-7.8,1.8)(-8.6,1.4)(0.4,8.8)(1.6,8.8)(2.9,8.8)(3.8,9.5)(5,8.6)(4,7)(2.4,6.6)(1,5.4)(0,6.3)(-0.3,5)(-0.9,4.8)(0.8,4.4)(2.3,4.6)(3.2,5.2)(1.4,3)(-0.2,2.4)(1,1)(2.2,1)(1.6,-3.4)(2.6,-4.5)(4.2,-3.6)(1.6,-7.4)(0.3,-7.4)(3.6,-6.9)(4.6,-6.4)(5.2,-5.2)(5.4,-8.4)(0.6,-8.8)(-0.4,-10)(-0.9,-12.2)(-1.4,-13.2)(-0.8,-13.7)(0.3,-14.3)(1.7,-14.9)(3.6,-15.3)(4.8,-14.7)(5.4,-14.3)(6,-13.6)
};
\end{axis}
\end{tikzpicture}
\end{document}
